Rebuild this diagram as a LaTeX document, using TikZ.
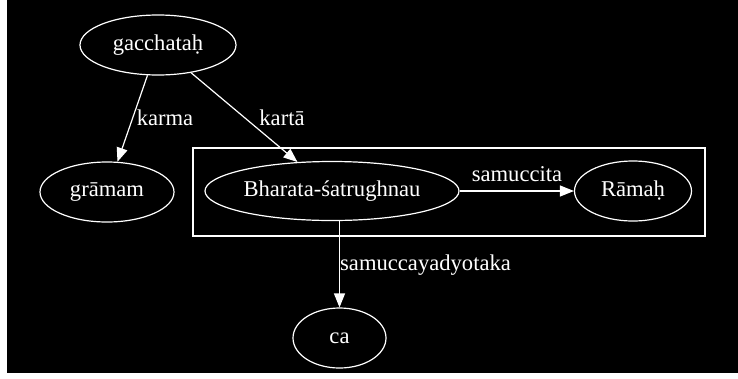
\documentclass[tikz,border=0pt]{standalone}
\usepackage{fontspec}
\setmainfont{Liberation Serif}
\usetikzlibrary{arrows.meta,shapes.geometric}
\tikzset{
  nd/.style={draw=white, line width=1.2pt, ellipse, inner sep=0pt, minimum height=60pt, text=white, font=\fontsize{22.6}{24}\selectfont},
  edge/.style={draw=white, line width=1.2pt, -{Triangle[length=14pt,width=11pt,fill=white]}},
  lbl/.style={text=white, inner sep=0pt, font=\fontsize{22.6}{24}\selectfont},
  clusterbox/.style={draw=white, line width=1.2pt, rectangle, inner sep=0pt}
}
\begin{document}
\begin{tikzpicture}[x=1pt,y=-1pt]
\useasboundingbox (0,0) rectangle (738,378);
\fill[white] (0,0) rectangle (738,378);
\fill[black] (7,0) rectangle (738,373);
\node[clusterbox, minimum width=512pt, minimum height=88pt] (cl) at (449,192) {};
\node[nd, minimum width=156pt] (g) at (158,45) {gacchataḥ};
\node[nd, minimum width=134pt] (gr) at (107,192) {grāmam};
\node[nd, minimum width=254pt, minimum height=59pt] (bh) at (332,191) {Bharata-śatrughnau};
\node[nd, minimum width=117pt] (ra) at (633,191) {Rāmaḥ};
\node[nd, minimum width=93pt] (ca) at (339.5,338) {ca};
\draw[edge] (g) -- (gr);
\draw[edge] (g) -- (bh);
\draw[edge] (bh) -- (ra);
\draw[edge] (ca.north |- bh.south) -- (ca.north);
\node[lbl] (lkarma) at (165,118) {karma};
\node[lbl] (lkarta) at (282,118) {kartā};
\node[lbl] (lsam) at (517,174) {samuccita};
\node[lbl, anchor=west] (lsd) at (340,265) {samuccayadyotaka};
\end{tikzpicture}
\end{document}
